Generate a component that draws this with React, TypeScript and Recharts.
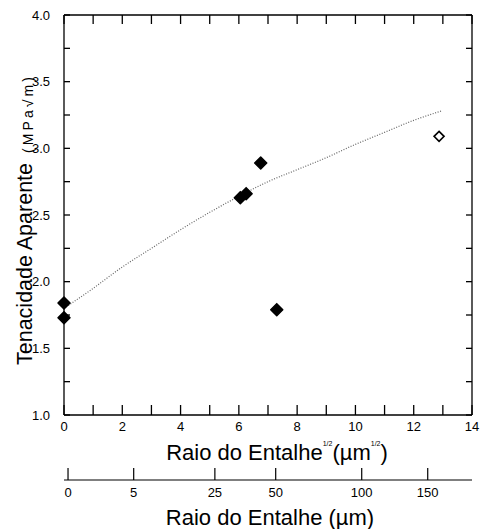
import React from "react";
import {
  ComposedChart,
  Line,
  Scatter,
  XAxis,
  YAxis,
} from "recharts";

// valores
const filledX = [0, 0, 6.05, 6.25, 6.75, 7.3];
const filledY = [1.84, 1.73, 2.63, 2.66, 2.89, 1.79];
const openX = [12.87];
const openY = [3.09];

// curva de ajuste (pontilhada)
const fitX = [0, 1, 2, 3, 4, 5, 6, 7, 8, 9, 10, 11, 12, 12.95];
const fitY = [1.8, 1.95, 2.11, 2.25, 2.39, 2.52, 2.64, 2.75, 2.84, 2.93, 3.03, 3.12, 3.21, 3.28];

const xTicks = [0, 1, 2, 3, 4, 5, 6, 7, 8, 9, 10, 11, 12, 13, 14];
const yTicks = [1, 1.25, 1.5, 1.75, 2, 2.25, 2.5, 2.75, 3, 3.25, 3.5, 3.75, 4];
// segundo eixo: raio em µm, posicionado pela raiz quadrada
const umTicks = [0, 5, 25, 50, 100, 150];
const umPos = umTicks.map((v) => Math.sqrt(v));

const FONT = "'Liberation Sans', Arial, sans-serif";
const TICK = { fill: "#000", fontSize: 13, fontFamily: FONT };

const filledData = filledX.map((x, i) => ({ x, y: filledY[i] }));
const openData = openX.map((x, i) => ({ x, y: openY[i] }));
const fitData = fitX.map((x, i) => ({ x, y: fitY[i] }));

const FilledDiamond = (props: any) => {
  const { cx, cy } = props;
  const r = 6;
  return (
    <path
      d={`M${cx},${cy - r}L${cx + r},${cy}L${cx},${cy + r}L${cx - r},${cy}Z`}
      fill="#000"
      stroke="#000"
      strokeWidth={1.5}
      strokeLinejoin="round"
    />
  );
};

const OpenDiamond = (props: any) => {
  const { cx, cy } = props;
  const r = 5;
  return (
    <path
      d={`M${cx},${cy - r}L${cx + r},${cy}L${cx},${cy + r}L${cx - r},${cy}Z`}
      fill="#fff"
      stroke="#000"
      strokeWidth={1.6}
    />
  );
};

const MainXLabel = (props: any) => {
  const { x, y, width } = props.viewBox;
  return (
    <text
      x={x + width / 2 + 9}
      y={y + 45}
      textAnchor="middle"
      fontSize={22}
      fontFamily={FONT}
      fill="#000"
    >
      Raio do Entalhe
      <tspan fontSize={7} dy={-14}>1/2</tspan>
      <tspan dy={14}>(µm</tspan>
      <tspan fontSize={7} dy={-14}>1/2</tspan>
      <tspan dy={14}>)</tspan>
    </text>
  );
};

const UmXLabel = (props: any) => {
  const { x, y, width } = props.viewBox;
  return (
    <text
      x={x + width / 2 + 2}
      y={y + 45}
      textAnchor="middle"
      fontSize={22}
      fontFamily={FONT}
      fill="#000"
    >
      Raio do Entalhe (µm)
    </text>
  );
};

const YLabel = (props: any) => {
  const { x, y, height } = props.viewBox;
  const bx = x + 32;
  const by = y + height - 50;
  return (
    <g transform={`rotate(-90, ${bx}, ${by})`}>
      <text x={bx} y={by} textAnchor="start" fontSize={21.5} fontFamily={FONT} fill="#000">
        Tenacidade Aparente
      </text>
      <text
        x={bx + 212}
        y={by + 1}
        textAnchor="start"
        fontSize={14}
        fontFamily={FONT}
        fill="#000"
        textLength={76}
        lengthAdjust="spacing"
      >
        (MPa√m)
      </text>
    </g>
  );
};

const noLabel = () => "";

export default function App() {
  return (
    <div style={{ position: "absolute", left: 0, top: 0, background: "#fff" }}>
      <ComposedChart
        width={480}
        height={529}
        margin={{ top: 0, right: 0, bottom: 0, left: 0 }}
      >
        <XAxis
          xAxisId="main"
          type="number"
          dataKey="x"
          domain={[0, 14]}
          ticks={xTicks}
          interval={0}
          height={65}
          stroke="#000"
          strokeWidth={1.3}
          tickSize={-10}
          tickMargin={17}
          tick={TICK}
          tickFormatter={(v: number) => (v % 2 === 0 ? String(v) : "")}
          label={<MainXLabel />}
        />
        <XAxis
          xAxisId="um"
          type="number"
          dataKey="x"
          domain={[-0.137, 13.755]}
          ticks={umPos}
          interval={0}
          height={49}
          stroke="#000"
          strokeWidth={1.2}
          tickSize={-12}
          tickMargin={20}
          tick={TICK}
          tickFormatter={(v: number) => String(Math.round(v * v))}
          label={<UmXLabel />}
        />
        <XAxis
          xAxisId="top"
          orientation="top"
          type="number"
          dataKey="x"
          domain={[0, 14]}
          ticks={xTicks}
          interval={0}
          height={15}
          stroke="#000"
          strokeWidth={1.3}
          tickSize={-9}
          tick={TICK}
          tickFormatter={noLabel}
        />
        <YAxis
          yAxisId="left"
          type="number"
          domain={[1, 4]}
          ticks={yTicks}
          interval={0}
          width={64}
          stroke="#000"
          strokeWidth={1.3}
          tickSize={-6}
          tickMargin={20}
          tick={TICK}
          tickFormatter={(v: number) => (Math.abs(v * 2 - Math.round(v * 2)) < 1e-9 ? v.toFixed(1) : "")}
          label={<YLabel />}
        />
        <YAxis
          yAxisId="right"
          orientation="right"
          type="number"
          domain={[1, 4]}
          ticks={yTicks}
          interval={0}
          width={8}
          stroke="#000"
          strokeWidth={1.3}
          tickSize={-6}
          tick={TICK}
          tickFormatter={noLabel}
        />
        {/* séries invisíveis só para ligar os eixos auxiliares */}
        <Line
          xAxisId="top"
          yAxisId="right"
          data={fitData}
          dataKey="y"
          stroke="none"
          dot={false}
          activeDot={false}
          isAnimationActive={false}
        />
        <Line
          xAxisId="um"
          yAxisId="right"
          data={fitData}
          dataKey="y"
          stroke="none"
          dot={false}
          activeDot={false}
          isAnimationActive={false}
        />
        <Line
          xAxisId="main"
          yAxisId="left"
          data={fitData}
          dataKey="y"
          type="monotone"
          stroke="#666"
          strokeWidth={1.2}
          strokeDasharray="1 1.6"
          dot={false}
          activeDot={false}
          isAnimationActive={false}
        />
        <Scatter
          xAxisId="main"
          yAxisId="left"
          data={filledData}
          dataKey="y"
          shape={<FilledDiamond />}
          isAnimationActive={false}
        />
        <Scatter
          xAxisId="main"
          yAxisId="left"
          data={openData}
          dataKey="y"
          shape={<OpenDiamond />}
          isAnimationActive={false}
        />
      </ComposedChart>
    </div>
  );
}
